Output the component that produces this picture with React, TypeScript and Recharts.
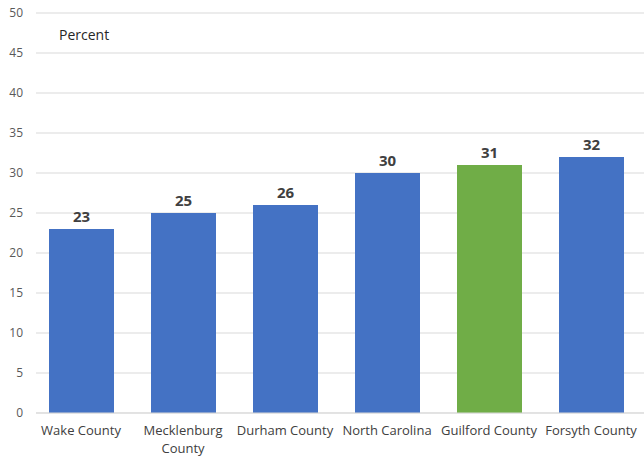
import React from 'react';
import { BarChart, Bar, XAxis, YAxis, CartesianGrid, Cell, LabelList } from 'recharts';

// 各地区百分比
const areas = ['Wake County', 'Mecklenburg County', 'Durham County', 'North Carolina', 'Guilford County', 'Forsyth County'];
const percents = [23, 25, 26, 30, 31, 32];
// 刻度标签的分行
const tickLines = [['Wake County'], ['Mecklenburg', 'County'], ['Durham County'], ['North Carolina'], ['Guilford County'], ['Forsyth County']];
const yTicks = [0, 5, 10, 15, 20, 25, 30, 35, 40, 45, 50];
const highlighted = 'Guilford County';

const FONT = '"Open Sans", "Noto Sans", sans-serif';

const data = areas.map((name, i) => ({ name, value: percents[i] }));

function AreaTick(props: any) {
  const { x, y, payload } = props;
  const lines = tickLines[areas.indexOf(payload.value)] ?? [payload.value];
  return (
    <g>
      {lines.map((l, i) => (
        <text key={i} x={x} y={y + 20 + i * 18} textAnchor="middle" fontFamily={FONT} fontSize={13} fill="#404040">
          {l}
        </text>
      ))}
    </g>
  );
}

export default function App() {
  return (
    <div style={{ position: 'absolute', left: 0, top: 0, width: 644, height: 456, background: '#fff' }}>
      <BarChart width={644} height={456} data={data} margin={{ top: 13, right: 0, bottom: 0, left: 0 }}>
        <CartesianGrid vertical={false} stroke="#d9d9d9" />
        <XAxis
          dataKey="name"
          tick={<AreaTick />}
          tickLine={false}
          axisLine={{ stroke: '#d9d9d9' }}
          tickSize={0}
          height={43}
          interval={0}
          padding={{ left: -6, right: 2 }}
        />
        <YAxis
          domain={[0, 50]}
          ticks={yTicks}
          width={36}
          tickLine={false}
          axisLine={false}
          tickSize={0}
          tickMargin={13}
          tick={{ fontSize: 12, fill: '#595959', fontFamily: FONT }}
        />
        <Bar dataKey="value" barSize={65} isAnimationActive={false}>
          {data.map((d) => (
            <Cell key={d.name} fill={d.name === highlighted ? '#70AD47' : '#4472C4'} />
          ))}
          <LabelList dataKey="value" position="top" offset={7} fill="#404040" fontSize={15} fontWeight="bold" fontFamily={FONT} />
        </Bar>
      </BarChart>
      <div style={{ position: 'absolute', left: 59, top: 25, fontFamily: FONT, fontSize: 14, color: '#262626' }}>Percent</div>
    </div>
  );
}
